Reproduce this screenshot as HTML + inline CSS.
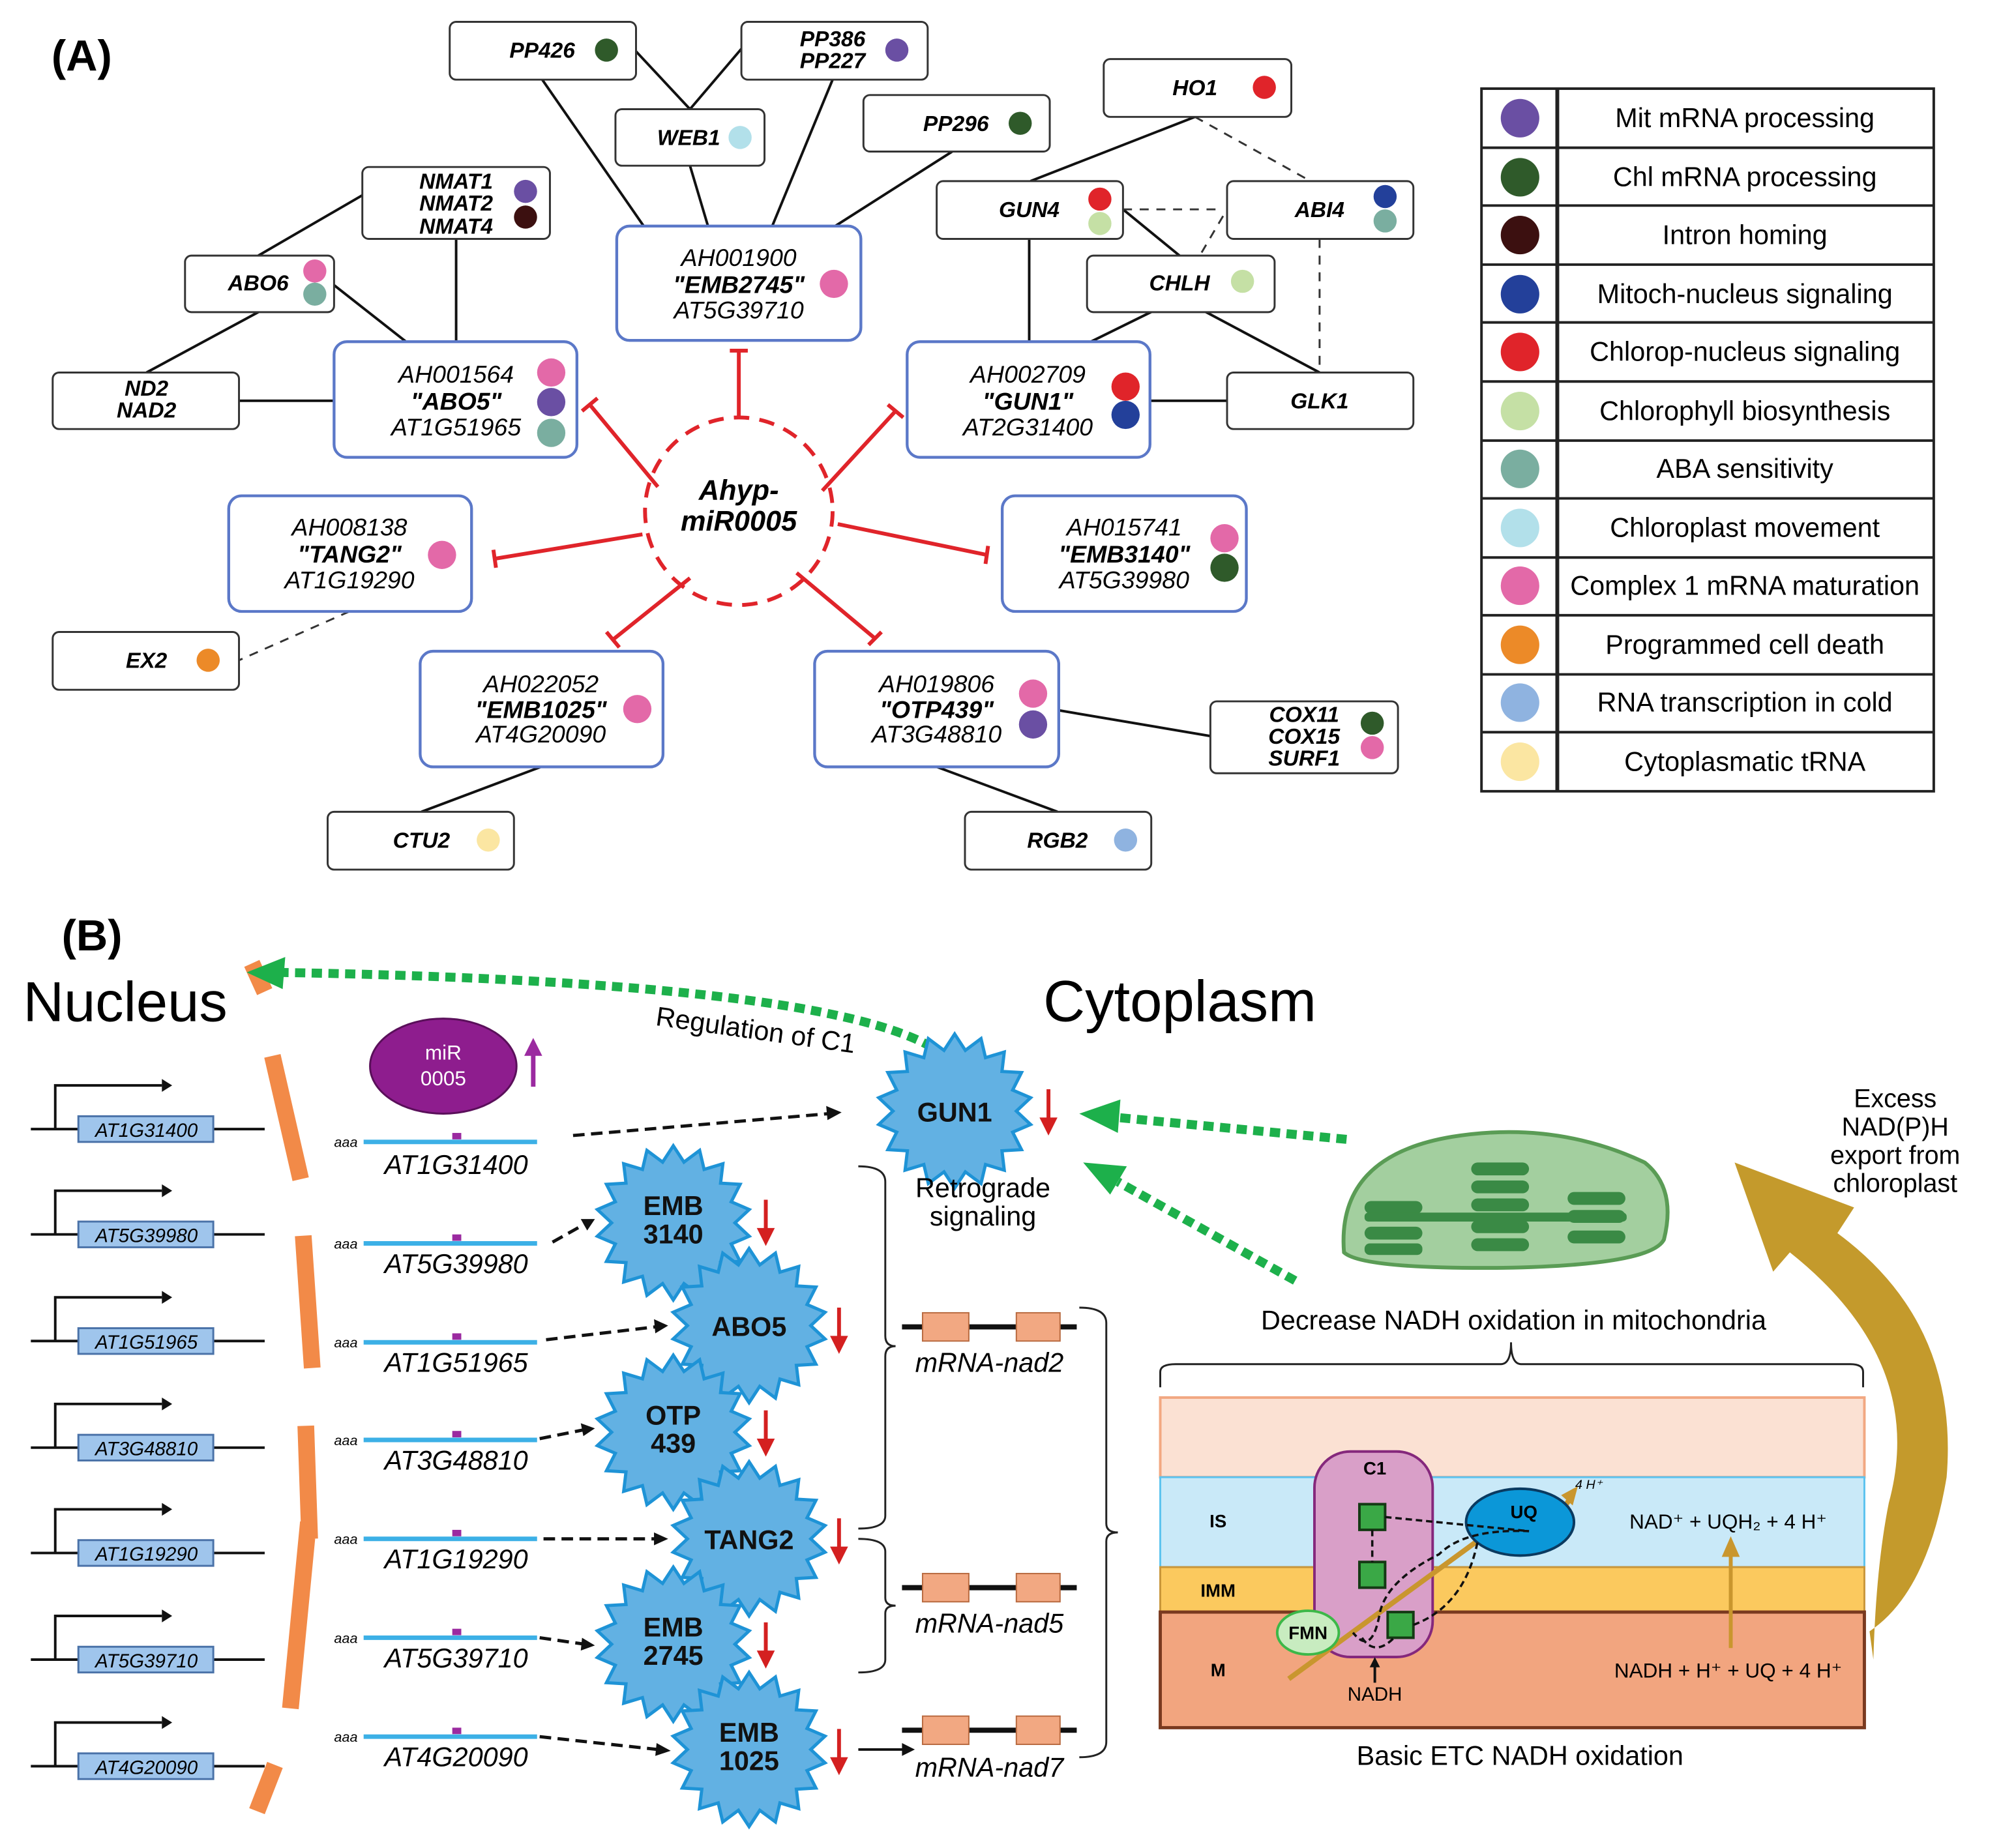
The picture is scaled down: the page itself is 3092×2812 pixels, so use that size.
<!DOCTYPE html>
<html><head><meta charset="utf-8"><style>
html,body{margin:0;padding:0;background:#fff}
svg{display:block}
text{font-family:"Liberation Sans",Arial,sans-serif}
.bi{font-weight:bold;font-style:italic;font-size:17px}
.it{font-style:italic;font-size:21px}
.lg{font-size:21px}
</style></head><body>
<svg width="3092" height="2812" viewBox="0 0 1569 1427" preserveAspectRatio="none" xmlns="http://www.w3.org/2000/svg">
<defs>
<polygon id="star" points="" fill="#62b1e3" stroke="#1e93d6" stroke-width="2.5"/>
</defs>
<text x="40" y="55" font-size="34" font-weight="bold">(A)</text>
<g stroke="#111" stroke-width="2" fill="none">
<line x1="422" y1="62" x2="501" y2="176"/><line x1="495" y1="40" x2="537" y2="85"/><line x1="577" y1="38" x2="537" y2="85"/>
<line x1="537" y1="129" x2="551" y2="176"/><line x1="648" y1="62" x2="601" y2="176"/><line x1="741" y1="118" x2="650" y2="176"/>
<line x1="282" y1="152" x2="201" y2="199"/><line x1="355" y1="186" x2="355" y2="266"/><line x1="260" y1="222" x2="316" y2="266"/>
<line x1="201" y1="243" x2="114" y2="290"/><line x1="186" y1="312" x2="260" y2="312"/>
<line x1="930" y1="91" x2="802" y2="141"/><line x1="874" y1="163" x2="918" y2="199"/><line x1="801" y1="186" x2="801" y2="266"/>
<line x1="918" y1="232" x2="849" y2="266"/><line x1="918" y1="232" x2="1027" y2="290"/><line x1="895" y1="312" x2="955" y2="312"/>
<line x1="824" y1="553" x2="942" y2="573"/><line x1="421" y1="597" x2="328" y2="632"/><line x1="729" y1="597" x2="823" y2="632"/>
</g>
<g stroke="#333" stroke-width="1.5" fill="none" stroke-dasharray="7,6">
<line x1="930" y1="91" x2="1020" y2="141"/><line x1="874" y1="163" x2="950" y2="163"/><line x1="922" y1="219" x2="952" y2="168"/>
<line x1="1027" y1="186" x2="1027" y2="290"/><line x1="272" y1="476" x2="186" y2="514"/>
</g>
<g fill="#fff" stroke="#333" stroke-width="1.5">
<rect x="350" y="17" width="145" height="45" rx="5"/><rect x="577" y="17" width="145" height="45" rx="5"/>
<rect x="479" y="85" width="116" height="44" rx="5"/><rect x="672" y="74" width="145" height="44" rx="5"/>
<rect x="859" y="46" width="146" height="45" rx="5"/><rect x="282" y="130" width="146" height="56" rx="5"/>
<rect x="144" y="199" width="116" height="44" rx="5"/><rect x="729" y="141" width="145" height="45" rx="5"/>
<rect x="955" y="141" width="145" height="45" rx="5"/><rect x="846" y="199" width="146" height="44" rx="5"/>
<rect x="41" y="290" width="145" height="44" rx="5"/><rect x="955" y="290" width="145" height="44" rx="5"/>
<rect x="41" y="492" width="145" height="45" rx="5"/><rect x="942" y="546" width="146" height="56" rx="5"/>
<rect x="255" y="632" width="145" height="45" rx="5"/><rect x="751" y="632" width="145" height="45" rx="5"/>
</g>
<g fill="#fff" stroke="#5b78c8" stroke-width="2.2">
<rect x="480" y="176" width="190" height="89" rx="10"/><rect x="260" y="266" width="189" height="90" rx="10"/>
<rect x="706" y="266" width="189" height="90" rx="10"/><rect x="178" y="386" width="189" height="90" rx="10"/>
<rect x="780" y="386" width="190" height="90" rx="10"/><rect x="327" y="507" width="189" height="90" rx="10"/>
<rect x="634" y="507" width="190" height="90" rx="10"/>
</g>
<g class="bi" text-anchor="middle">
<text x="422" y="45">PP426</text><text x="648" y="36">PP386</text><text x="648" y="53">PP227</text>
<text x="536" y="113">WEB1</text><text x="744" y="102">PP296</text><text x="930" y="74">HO1</text>
<text x="355" y="147">NMAT1</text><text x="355" y="164">NMAT2</text><text x="355" y="182">NMAT4</text>
<text x="201" y="226">ABO6</text><text x="801" y="169">GUN4</text><text x="1027" y="169">ABI4</text>
<text x="918" y="226">CHLH</text><text x="114" y="308">ND2</text><text x="114" y="325">NAD2</text>
<text x="1027" y="318">GLK1</text><text x="114" y="520">EX2</text>
<text x="1015" y="562">COX11</text><text x="1015" y="579">COX15</text><text x="1015" y="596">SURF1</text>
<text x="328" y="660">CTU2</text><text x="823" y="660">RGB2</text>
</g>
<g text-anchor="middle" font-size="19">
<text x="575" y="207" font-style="italic">AH001900</text><text x="575" y="228" font-style="italic" font-weight="bold">"EMB2745"</text><text x="575" y="248" font-style="italic">AT5G39710</text>
<text x="355" y="298" font-style="italic">AH001564</text><text x="355" y="319" font-style="italic" font-weight="bold">"ABO5"</text><text x="355" y="339" font-style="italic">AT1G51965</text>
<text x="800" y="298" font-style="italic">AH002709</text><text x="800" y="319" font-style="italic" font-weight="bold">"GUN1"</text><text x="800" y="339" font-style="italic">AT2G31400</text>
<text x="272" y="417" font-style="italic">AH008138</text><text x="272" y="438" font-style="italic" font-weight="bold">"TANG2"</text><text x="272" y="458" font-style="italic">AT1G19290</text>
<text x="875" y="417" font-style="italic">AH015741</text><text x="875" y="438" font-style="italic" font-weight="bold">"EMB3140"</text><text x="875" y="458" font-style="italic">AT5G39980</text>
<text x="421" y="539" font-style="italic">AH022052</text><text x="421" y="559" font-style="italic" font-weight="bold">"EMB1025"</text><text x="421" y="578" font-style="italic">AT4G20090</text>
<text x="729" y="539" font-style="italic">AH019806</text><text x="729" y="559" font-style="italic" font-weight="bold">"OTP439"</text><text x="729" y="578" font-style="italic">AT3G48810</text>
</g>
<g>
<circle cx="472" cy="39" r="9" fill="#2f5a2a"/><circle cx="698" cy="39" r="9" fill="#6a4fa3"/><circle cx="576" cy="107" r="9" fill="#b2e0ea"/>
<circle cx="794" cy="96" r="9" fill="#2f5a2a"/><circle cx="984" cy="68" r="9" fill="#e0242a"/>
<circle cx="409" cy="149" r="9" fill="#6a4fa3"/><circle cx="409" cy="169" r="9" fill="#3c1010"/>
<circle cx="245" cy="211" r="9" fill="#e369a8"/><circle cx="245" cy="229" r="9" fill="#7aaea0"/>
<circle cx="856" cy="155" r="9" fill="#e0242a"/><circle cx="856" cy="174" r="9" fill="#c5e0a5"/>
<circle cx="1078" cy="153" r="9" fill="#23409a"/><circle cx="1078" cy="172" r="9" fill="#7aaea0"/>
<circle cx="967" cy="219" r="9" fill="#c5e0a5"/><circle cx="162" cy="514" r="9" fill="#ec8a28"/>
<circle cx="1068" cy="563" r="9" fill="#2f5a2a"/><circle cx="1068" cy="582" r="9" fill="#e369a8"/>
<circle cx="380" cy="654" r="9" fill="#fbe6a2"/><circle cx="876" cy="654" r="9" fill="#8fb3e0"/>
<circle cx="649" cy="221" r="11" fill="#e369a8"/>
<circle cx="429" cy="290" r="11" fill="#e369a8"/><circle cx="429" cy="313" r="11" fill="#6a4fa3"/><circle cx="429" cy="337" r="11" fill="#7aaea0"/>
<circle cx="876" cy="301" r="11" fill="#e0242a"/><circle cx="876" cy="323" r="11" fill="#23409a"/>
<circle cx="344" cy="432" r="11" fill="#e369a8"/>
<circle cx="953" cy="419" r="11" fill="#e369a8"/><circle cx="953" cy="442" r="11" fill="#2f5a2a"/>
<circle cx="496" cy="552" r="11" fill="#e369a8"/>
<circle cx="804" cy="540" r="11" fill="#e369a8"/><circle cx="804" cy="564" r="11" fill="#6a4fa3"/>
</g>
<circle cx="575" cy="398" r="73" fill="#fff" stroke="#e0242a" stroke-width="3" stroke-dasharray="12,8"/>
<text x="575" y="389" text-anchor="middle" font-size="22" font-weight="bold" font-style="italic">Ahyp-</text>
<text x="575" y="413" text-anchor="middle" font-size="22" font-weight="bold" font-style="italic">miR0005</text>
<g stroke="#e0242a" stroke-width="3" fill="none">
<line x1="575" y1="325" x2="575" y2="273"/><line x1="568" y1="273" x2="582" y2="273"/>
<line x1="512" y1="379" x2="459" y2="315"/><line x1="453" y1="320" x2="465" y2="310"/>
<line x1="640" y1="382" x2="697" y2="320"/><line x1="691" y1="315" x2="703" y2="325"/>
<line x1="500" y1="416" x2="385" y2="435"/><line x1="384" y1="428" x2="386" y2="442"/>
<line x1="652" y1="408" x2="768" y2="432"/><line x1="769" y1="425" x2="767" y2="439"/>
<line x1="537" y1="450" x2="477" y2="498"/><line x1="472" y1="492" x2="482" y2="504"/>
<line x1="620" y1="446" x2="681" y2="497"/><line x1="676" y1="502" x2="686" y2="492"/>
</g>
<g stroke="#222" stroke-width="2" fill="none">
<rect x="1153" y="69" width="352" height="547"/>
<line x1="1212" y1="69" x2="1212" y2="616" stroke-width="3"/>
<line x1="1153" y1="115" x2="1505" y2="115"/><line x1="1153" y1="160" x2="1505" y2="160"/><line x1="1153" y1="206" x2="1505" y2="206"/>
<line x1="1153" y1="251" x2="1505" y2="251"/><line x1="1153" y1="297" x2="1505" y2="297"/><line x1="1153" y1="343" x2="1505" y2="343"/>
<line x1="1153" y1="388" x2="1505" y2="388"/><line x1="1153" y1="434" x2="1505" y2="434"/><line x1="1153" y1="479" x2="1505" y2="479"/>
<line x1="1153" y1="525" x2="1505" y2="525"/><line x1="1153" y1="570" x2="1505" y2="570"/>
</g>
<g>
<circle cx="1183" cy="92" r="15" fill="#6a4fa3"/><circle cx="1183" cy="138" r="15" fill="#2f5a2a"/><circle cx="1183" cy="183" r="15" fill="#3c1010"/>
<circle cx="1183" cy="229" r="15" fill="#23409a"/><circle cx="1183" cy="274" r="15" fill="#e0242a"/><circle cx="1183" cy="320" r="15" fill="#c5e0a5"/>
<circle cx="1183" cy="365" r="15" fill="#7aaea0"/><circle cx="1183" cy="411" r="15" fill="#b2e0ea"/><circle cx="1183" cy="456" r="15" fill="#e369a8"/>
<circle cx="1183" cy="502" r="15" fill="#ec8a28"/><circle cx="1183" cy="547" r="15" fill="#8fb3e0"/><circle cx="1183" cy="593" r="15" fill="#fbe6a2"/>
</g>
<g class="lg" text-anchor="middle">
<text x="1358" y="99">Mit mRNA processing</text><text x="1358" y="145">Chl mRNA processing</text><text x="1358" y="190">Intron homing</text>
<text x="1358" y="236">Mitoch-nucleus signaling</text><text x="1358" y="281">Chlorop-nucleus signaling</text><text x="1358" y="327">Chlorophyll biosynthesis</text>
<text x="1358" y="372">ABA sensitivity</text><text x="1358" y="418">Chloroplast movement</text><text x="1358" y="463">Complex 1 mRNA maturation</text>
<text x="1358" y="509">Programmed cell death</text><text x="1358" y="554">RNA transcription in cold</text><text x="1358" y="600">Cytoplasmatic tRNA</text>
</g>

<text x="48" y="740" font-size="34" font-weight="bold">(B)</text>
<text x="18" y="795" font-size="44">Nucleus</text>
<text x="812" y="795" font-size="45">Cytoplasm</text>
<path d="M196,750 L206,772 M212,822 L234,918 M236,962 L243,1065 M238,1110 L241,1198 M240,1185 L226,1330 M214,1374 L200,1410" stroke="#f28a48" stroke-width="13" fill="none"/>
<path d="M745,832 Q700,765 215,757" stroke="#1db04b" stroke-width="7" fill="none" stroke-dasharray="8,5"/>
<polygon points="192,757 222,745 220,770" fill="#1db04b"/>
<path d="M1048,887 L870,870" stroke="#1db04b" stroke-width="7" fill="none" stroke-dasharray="8,5"/>
<polygon points="840,867 872,856 870,882" fill="#1db04b"/>
<path d="M1008,997 L870,920" stroke="#1db04b" stroke-width="7" fill="none" stroke-dasharray="8,5"/>
<polygon points="843,905 877,908 864,930" fill="#1db04b"/>
<text x="588" y="809" font-size="21" text-anchor="middle" transform="rotate(8 588 803)">Regulation of C1</text>
<ellipse cx="345" cy="830" rx="57" ry="37" fill="#8e1d8e" stroke="#5a0f5a" stroke-width="1.5"/>
<text x="345" y="825" text-anchor="middle" fill="#fff" font-size="16">miR</text>
<text x="345" y="845" text-anchor="middle" fill="#fff" font-size="16">0005</text>
<line x1="415" y1="846" x2="415" y2="820" stroke="#9b2aa0" stroke-width="3.5"/><polygon points="408,822 415,808 422,822" fill="#9b2aa0"/>
<g stroke="#111" stroke-width="2" fill="none">
<line x1="24" y1="879" x2="206" y2="879"/><path d="M43,879 V845 H126"/>
<line x1="24" y1="961" x2="206" y2="961"/><path d="M43,961 V927 H126"/>
<line x1="24" y1="1044" x2="206" y2="1044"/><path d="M43,1044 V1010 H126"/>
<line x1="24" y1="1127" x2="206" y2="1127"/><path d="M43,1127 V1093 H126"/>
<line x1="24" y1="1209" x2="206" y2="1209"/><path d="M43,1209 V1175 H126"/>
<line x1="24" y1="1292" x2="206" y2="1292"/><path d="M43,1292 V1258 H126"/>
<line x1="24" y1="1375" x2="206" y2="1375"/><path d="M43,1375 V1341 H126"/>
</g>
<g fill="#111">
<polygon points="126,840 134,845 126,850"/><polygon points="126,922 134,927 126,932"/><polygon points="126,1005 134,1010 126,1015"/>
<polygon points="126,1088 134,1093 126,1098"/><polygon points="126,1170 134,1175 126,1180"/><polygon points="126,1253 134,1258 126,1263"/>
<polygon points="126,1336 134,1341 126,1346"/>
</g>
<g fill="#9fc5ec" stroke="#4a72a8" stroke-width="1.5">
<rect x="61" y="869" width="105" height="20"/><rect x="61" y="951" width="105" height="20"/><rect x="61" y="1034" width="105" height="20"/>
<rect x="61" y="1117" width="105" height="20"/><rect x="61" y="1199" width="105" height="20"/><rect x="61" y="1282" width="105" height="20"/>
<rect x="61" y="1365" width="105" height="20"/>
</g>
<g font-size="15" font-style="italic" text-anchor="middle">
<text x="114" y="885">AT1G31400</text><text x="114" y="967">AT5G39980</text><text x="114" y="1050">AT1G51965</text>
<text x="114" y="1133">AT3G48810</text><text x="114" y="1215">AT1G19290</text><text x="114" y="1298">AT5G39710</text><text x="114" y="1381">AT4G20090</text>
</g>
<g stroke="#3cb0e6" stroke-width="3.5">
<line x1="283" y1="889" x2="418" y2="889"/><line x1="283" y1="968" x2="418" y2="968"/><line x1="283" y1="1045" x2="418" y2="1045"/>
<line x1="283" y1="1121" x2="418" y2="1121"/><line x1="283" y1="1198" x2="418" y2="1198"/><line x1="283" y1="1275" x2="418" y2="1275"/>
<line x1="283" y1="1352" x2="418" y2="1352"/>
</g>
<g fill="#9b2aa0">
<rect x="352" y="882" width="7" height="5"/><rect x="352" y="961" width="7" height="5"/><rect x="352" y="1038" width="7" height="5"/>
<rect x="352" y="1114" width="7" height="5"/><rect x="352" y="1191" width="7" height="5"/><rect x="352" y="1268" width="7" height="5"/>
<rect x="352" y="1345" width="7" height="5"/>
</g>
<g font-size="11" font-style="italic">
<text x="260" y="893">aaa</text><text x="260" y="972">aaa</text><text x="260" y="1049">aaa</text><text x="260" y="1125">aaa</text>
<text x="260" y="1202">aaa</text><text x="260" y="1279">aaa</text><text x="260" y="1356">aaa</text>
</g>
<g class="it" text-anchor="middle">
<text x="355" y="914">AT1G31400</text><text x="355" y="991">AT5G39980</text><text x="355" y="1068">AT1G51965</text>
<text x="355" y="1144">AT3G48810</text><text x="355" y="1221">AT1G19290</text><text x="355" y="1298">AT5G39710</text><text x="355" y="1375">AT4G20090</text>
</g>
<g stroke="#111" stroke-width="2.5" fill="none" stroke-dasharray="9,5">
<line x1="446" y1="884" x2="645" y2="867"/><line x1="430" y1="967" x2="455" y2="953"/><line x1="425" y1="1043" x2="510" y2="1033"/>
<line x1="420" y1="1120" x2="455" y2="1113"/><line x1="423" y1="1198" x2="510" y2="1198"/><line x1="420" y1="1275" x2="455" y2="1280"/>
<line x1="420" y1="1352" x2="512" y2="1362"/>
</g>
<g fill="#111">
<polygon points="655,866 643,861 644,872"/><polygon points="463,949 452,949 457,958"/><polygon points="520,1032 509,1027 510,1038"/>
<polygon points="463,1112 452,1108 454,1118"/><polygon points="520,1198 509,1193 509,1203"/><polygon points="463,1281 453,1275 452,1285"/>
<polygon points="522,1363 511,1357 510,1367"/>
</g>
<use href="#star" x="743" y="865"/><use href="#star" x="524" y="952"/><use href="#star" x="583" y="1032"/>
<use href="#star" x="524" y="1115"/><use href="#star" x="583" y="1198"/><use href="#star" x="524" y="1280"/><use href="#star" x="583" y="1362"/>
<g font-size="21" font-weight="bold" text-anchor="middle" fill="#111">
<text x="743" y="873">GUN1</text>
<text x="524" y="946">EMB</text><text x="524" y="968">3140</text>
<text x="583" y="1040">ABO5</text>
<text x="524" y="1109">OTP</text><text x="524" y="1131">439</text>
<text x="583" y="1206">TANG2</text>
<text x="524" y="1274">EMB</text><text x="524" y="1296">2745</text>
<text x="583" y="1356">EMB</text><text x="583" y="1378">1025</text>
</g>
<g stroke="#d42020" stroke-width="3">
<line x1="816" y1="848" x2="816" y2="872"/><line x1="596" y1="934" x2="596" y2="958"/><line x1="653" y1="1018" x2="653" y2="1042"/>
<line x1="596" y1="1098" x2="596" y2="1122"/><line x1="653" y1="1182" x2="653" y2="1206"/><line x1="596" y1="1263" x2="596" y2="1287"/>
<line x1="653" y1="1346" x2="653" y2="1370"/>
</g>
<g fill="#d42020">
<polygon points="809,870 816,884 823,870"/><polygon points="589,956 596,970 603,956"/><polygon points="646,1040 653,1054 660,1040"/>
<polygon points="589,1120 596,1134 603,1120"/><polygon points="646,1204 653,1218 660,1204"/><polygon points="589,1285 596,1299 603,1285"/>
<polygon points="646,1368 653,1382 660,1368"/>
</g>
<text x="765" y="932" font-size="21" text-anchor="middle">Retrograde</text>
<text x="765" y="954" font-size="21" text-anchor="middle">signaling</text>
<g stroke="#222" stroke-width="1.5" fill="none">
<path d="M668,908 Q689,908 689,920 V1040 Q689,1048 697,1048 Q689,1048 689,1056 V1180 Q689,1190 668,1190"/>
<path d="M668,1198 Q689,1198 689,1208 V1244 Q689,1250 697,1250 Q689,1250 689,1256 V1292 Q689,1302 668,1302"/>
<path d="M840,1018 Q861,1018 861,1030 V1186 Q861,1193 870,1193 Q861,1193 861,1200 V1356 Q861,1368 840,1368"/>
<path d="M903,1080 V1068 Q903,1062 915,1062 H1168 Q1176,1062 1176,1045 Q1176,1062 1184,1062 H1440 Q1450,1062 1450,1068 V1080"/>
</g>
<g stroke="#111" stroke-width="4"><line x1="702" y1="1033" x2="838" y2="1033"/><line x1="702" y1="1236" x2="838" y2="1236"/><line x1="702" y1="1347" x2="838" y2="1347"/></g>
<g fill="#f2a882" stroke="#b86a40" stroke-width="1">
<rect x="718" y="1022" width="36" height="22"/><rect x="791" y="1022" width="34" height="22"/>
<rect x="718" y="1225" width="36" height="22"/><rect x="791" y="1225" width="34" height="22"/>
<rect x="718" y="1336" width="36" height="22"/><rect x="791" y="1336" width="34" height="22"/>
</g>
<g class="it" text-anchor="middle"><text x="770" y="1068">mRNA-nad2</text><text x="770" y="1271">mRNA-nad5</text><text x="770" y="1383">mRNA-nad7</text></g>
<line x1="668" y1="1362" x2="704" y2="1362" stroke="#111" stroke-width="2"/><polygon points="712,1362 702,1357 702,1367" fill="#111"/>
<path d="M1046,975 Q1040,900 1130,885 Q1210,872 1280,905 Q1305,925 1295,965 Q1285,985 1170,987 Q1060,988 1046,975 Z" fill="#a3cf9f" stroke="#5a9c55" stroke-width="3"/>
<g fill="#3a8a45">
<rect x="1145" y="905" width="45" height="10" rx="5"/><rect x="1145" y="919" width="45" height="10" rx="5"/><rect x="1145" y="933" width="45" height="10" rx="5"/>
<rect x="1145" y="950" width="45" height="10" rx="5"/><rect x="1145" y="964" width="45" height="10" rx="5"/>
<rect x="1062" y="935" width="45" height="10" rx="5"/><rect x="1062" y="955" width="45" height="10" rx="5"/><rect x="1062" y="968" width="45" height="9" rx="4"/>
<rect x="1220" y="928" width="45" height="10" rx="5"/><rect x="1220" y="942" width="45" height="10" rx="5"/><rect x="1220" y="958" width="45" height="10" rx="5"/>
<rect x="1062" y="944" width="204" height="7" rx="3"/>
</g>
<text x="1178" y="1035" font-size="21" text-anchor="middle">Decrease NADH oxidation in mitochondria</text>
<rect x="903" y="1088" width="548" height="62" fill="#fbe1d3" stroke="#f2a882" stroke-width="2"/>
<rect x="903" y="1150" width="548" height="70" fill="#c9e9f8" stroke="#5cc3ef" stroke-width="1.5"/>
<rect x="903" y="1220" width="548" height="35" fill="#fbc95e" stroke="#c9963a" stroke-width="1.5"/>
<rect x="903" y="1255" width="548" height="90" fill="#f2a57f" stroke="#7a3a20" stroke-width="2.5"/>
<rect x="1023" y="1130" width="92" height="160" rx="28" fill="#d99fc8" stroke="#85287c" stroke-width="2"/>
<line x1="1003" y1="1307" x2="1163" y2="1190" stroke="#c9962e" stroke-width="4"/>
<line x1="1213" y1="1180" x2="1223" y2="1165" stroke="#c9962e" stroke-width="4"/><polygon points="1228,1157 1215,1164 1224,1172" fill="#c9962e"/>
<ellipse cx="1183" cy="1185" rx="42" ry="26" fill="#0b97d8" stroke="#0a3a60" stroke-width="2"/>
<g fill="#3aa846" stroke="#143a14" stroke-width="2">
<rect x="1058" y="1171" width="20" height="20"/><rect x="1058" y="1216" width="20" height="20"/><rect x="1080" y="1255" width="20" height="20"/>
</g>
<g stroke="#111" stroke-width="1.8" fill="none" stroke-dasharray="5,3">
<path d="M1078,1181 L1190,1192 Q1140,1190 1120,1210 Q1080,1230 1074,1255 Q1068,1290 1053,1271"/>
<line x1="1068" y1="1191" x2="1068" y2="1216"/>
<path d="M1100,1265 Q1140,1250 1150,1200"/>
<path d="M1060,1275 Q1070,1290 1085,1275"/>
</g>
<ellipse cx="1018" cy="1271" rx="24" ry="17" fill="#c8ecc0" stroke="#3cb848" stroke-width="2"/>
<g font-size="14" font-weight="bold" text-anchor="middle">
<text x="1018" y="1276">FMN</text><text x="1186" y="1182">UQ</text><text x="1070" y="1148">C1</text>
<text x="948" y="1189">IS</text><text x="948" y="1243">IMM</text><text x="948" y="1305">M</text>
</g>
<text x="1226" y="1159" font-size="10" font-style="italic" font-family="Liberation Serif">4 H⁺</text>
<line x1="1070" y1="1310" x2="1070" y2="1296" stroke="#111" stroke-width="2"/><polygon points="1066,1298 1070,1290 1074,1298" fill="#111"/>
<text x="1070" y="1324" font-size="15" text-anchor="middle">NADH</text>
<text x="1345" y="1190" font-size="16" text-anchor="middle">NAD⁺ + UQH₂ + 4 H⁺</text>
<text x="1345" y="1306" font-size="16" text-anchor="middle">NADH + H⁺ + UQ + 4 H⁺</text>
<line x1="1347" y1="1283" x2="1347" y2="1210" stroke="#c9962e" stroke-width="3"/><polygon points="1340,1212 1347,1196 1354,1212" fill="#c9962e"/>
<text x="1183" y="1374" font-size="21" text-anchor="middle">Basic ETC NADH oxidation</text>
<path d="M1455,1270 Q1500,1240 1515,1150 Q1525,1030 1430,960 L1443,940 L1350,905 L1380,990 L1393,975 Q1500,1060 1470,1170 Q1460,1220 1458,1292 Z" fill="#c49a2c"/>
<g font-size="20" text-anchor="middle">
<text x="1475" y="862">Excess</text><text x="1475" y="884">NAD(P)H</text><text x="1475" y="906">export from</text><text x="1475" y="928">chloroplast</text>
</g>
</svg>
<script>
var p=[];for(var i=0;i<36;i++){var a=i*Math.PI/18-Math.PI/2,r=i%2?48:60;p.push((r*Math.cos(a)).toFixed(1)+","+(r*Math.sin(a)).toFixed(1));}
document.getElementById("star").setAttribute("points",p.join(" "));
</script>
</body></html>
